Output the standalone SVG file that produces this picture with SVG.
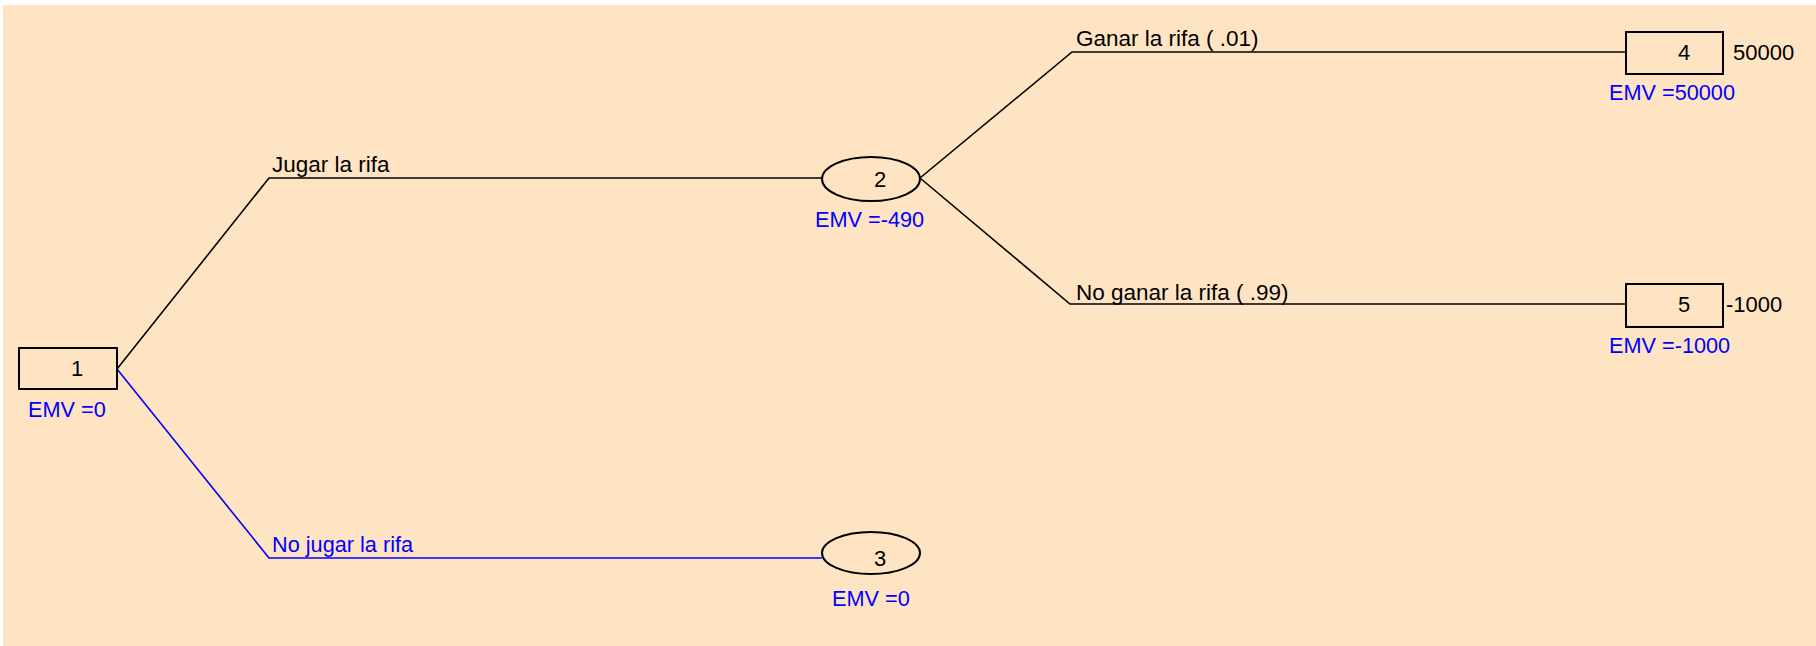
<svg xmlns="http://www.w3.org/2000/svg" width="1816" height="646" viewBox="0 0 1816 646">
  <style>
    .t { font-family: "Liberation Sans", Arial, sans-serif; font-size: 22px; fill: #000; }
    .lbl { font-size: 22.5px; }
    .emv { font-family: "Liberation Sans", Arial, sans-serif; font-size: 21.7px; fill: #0000ff; }
    .num { text-anchor: middle; }
    .box { fill: none; stroke: #000; stroke-width: 2; }
    .br { fill: none; stroke: #000; stroke-width: 1.6; }
    .br-blue { fill: none; stroke: #0000ff; stroke-width: 1.6; }
  </style>
  <rect x="0" y="0" width="1816" height="646" fill="#ffffff"/>
  <rect x="3" y="5" width="1813" height="641" fill="#ffe4c4"/>

  <g id="connectors">
    <polyline class="br" points="117,369 269,178 822,178"/>
    <polyline class="br-blue" points="117,369 269,558 822,558"/>
    <polyline class="br" points="920,178 1072,52 1626,52"/>
    <polyline class="br" points="920,178 1070,304 1626,304"/>
    <text class="t lbl" x="272" y="172">Jugar la rifa</text>
    <text class="emv lbl" x="272" y="552">No jugar la rifa</text>
    <text class="t lbl" x="1076" y="46">Ganar la rifa ( .01)</text>
    <text class="t lbl" x="1076" y="300">No ganar la rifa ( .99)</text>
  </g>

  <g id="node1">
    <rect class="box" x="19" y="348" width="98" height="41"/>
    <text class="t num" x="77" y="376">1</text>
    <text class="emv" x="28" y="417">EMV =0</text>
  </g>

  <g id="node2">
    <ellipse class="box" cx="871" cy="179" rx="49" ry="22"/>
    <text class="t num" x="880" y="187">2</text>
    <text class="emv" x="815" y="227">EMV =-490</text>
  </g>

  <g id="node3">
    <ellipse class="box" cx="871" cy="553" rx="49" ry="21"/>
    <text class="t num" x="880" y="566">3</text>
    <text class="emv" x="832" y="606">EMV =0</text>
  </g>

  <g id="node4">
    <rect class="box" x="1626" y="32" width="97" height="42"/>
    <text class="t num" x="1684" y="60">4</text>
    <text class="t" x="1733" y="60">50000</text>
    <text class="emv" x="1609" y="100">EMV =50000</text>
  </g>

  <g id="node5">
    <rect class="box" x="1626" y="284" width="97" height="43"/>
    <text class="t num" x="1684" y="312">5</text>
    <text class="t" x="1726" y="312">-1000</text>
    <text class="emv" x="1609" y="353">EMV =-1000</text>
  </g>
</svg>
